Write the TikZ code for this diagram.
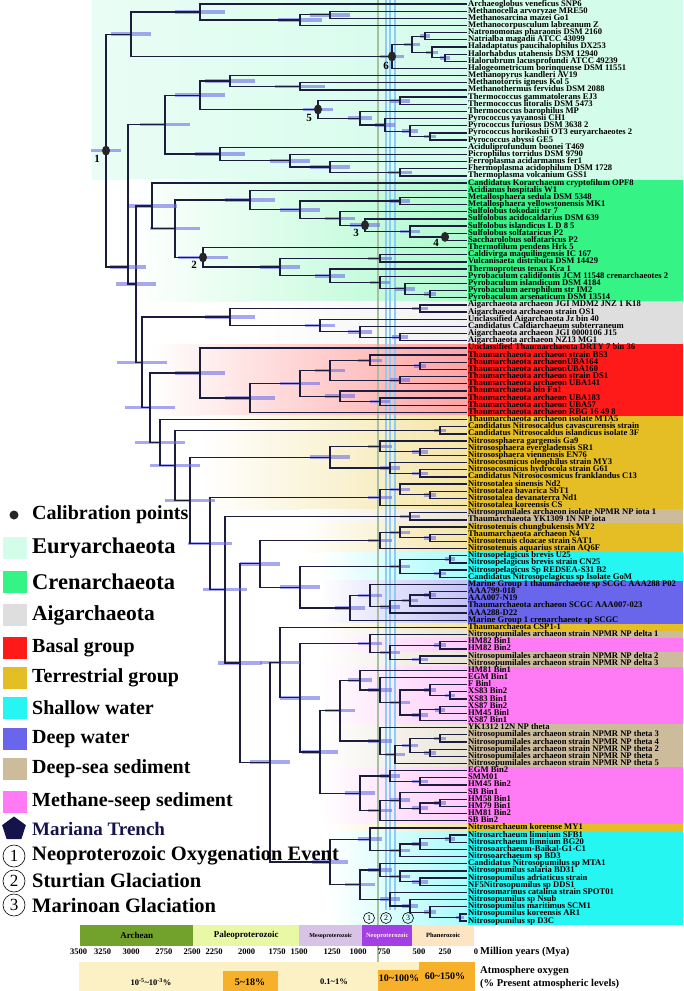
\documentclass[tikz,border=0pt]{standalone}
\usepackage{fontspec}
\setmainfont{Liberation Serif}
\usetikzlibrary{calc,shapes.geometric}

\definecolor{euryC}{HTML}{D4FCEB}
\definecolor{crenC}{HTML}{36F386}
\definecolor{aigC}{HTML}{DEDEDE}
\definecolor{basalC}{HTML}{FF1A1A}
\definecolor{terrC}{HTML}{E4BE24}
\definecolor{shallowC}{HTML}{26F6F2}
\definecolor{deepC}{HTML}{6A66EC}
\definecolor{sedC}{HTML}{CCBC9C}
\definecolor{seepC}{HTML}{FF7AF4}
\definecolor{treeC}{HTML}{1C1C3C}
\definecolor{hpdC}{HTML}{6E6EE6}
\definecolor{navyC}{HTML}{14144A}
\definecolor{oxyC}{HTML}{FBF1C4}
\definecolor{orangeC}{HTML}{F6B02A}
\definecolor{eventC}{HTML}{A9BFA2}
\definecolor{glacC}{HTML}{8ECBF5}
\definecolor{archC}{HTML}{72A22C}
\definecolor{paleoC}{HTML}{E8F8A4}
\definecolor{mesoC}{HTML}{D8C2E6}
\definecolor{neoC}{HTML}{A43FE6}
\definecolor{phanC}{HTML}{FDE5C4}

\tikzset{
  branch/.style={draw=treeC, line width=1.3pt},
  hpd/.style={fill=hpdC, fill opacity=.6},
  leaf/.style={anchor=west, inner xsep=1pt, inner ysep=0pt, font=\bfseries\fontsize{8.6}{8.6}\selectfont, text height=5.6pt, text depth=1.6pt},
  calib/.style={ellipse, fill=black!85, minimum width=8pt, minimum height=10pt, inner sep=0pt},
  calnum/.style={font=\bfseries\fontsize{11}{11}\selectfont},
  legtext/.style={anchor=west, inner sep=0pt, font=\bfseries\fontsize{20}{20}\selectfont},
  legbox/.style={minimum width=24pt, minimum height=22pt, inner sep=0pt},
  evnum/.style={circle, draw, line width=.6pt, inner sep=0pt, minimum size=#1},
  erabox/.style={minimum height=21pt, inner sep=0pt, anchor=north west},
  ticklab/.style={font=\bfseries\fontsize{8.5}{8.5}\selectfont},
  oxytext/.style={font=\bfseries\fontsize{10}{10}\selectfont}
}

% parent at x=#2, halfway between #3 and #4; #5 = half width of the HPD bar
\newcommand{\clade}[5]{%
  \path let \p1=($(#3)!.5!(#4)$) in coordinate (#1) at (#2pt,\y1);
  \fill[hpd] ([xshift=-#5pt,yshift=-1.8pt]#1) rectangle ([xshift=#5pt,yshift=1.8pt]#1);
  \draw[branch] (#3) -| (#1) |- (#4);
}
% same, parent put at (#2,#3)
\newcommand{\cladeat}[6]{%
  \coordinate (#1) at (#2,#3);
  \fill[hpd] ([xshift=-#6pt,yshift=-1.8pt]#1) rectangle ([xshift=#6pt,yshift=1.8pt]#1);
  \draw[branch] (#4) -| (#1) |- (#5);
}
% colour band over leaves #1..#2
\newcommand{\band}[4]{%
  \shade[left color=white, right color=#3!40] (#4,{4+(#1-1.5)*7.165}) rectangle (468,{4+(#2-.5)*7.165});
  \fill[#3] (468,{4+(#1-1.5)*7.165}) rectangle (683,{4+(#2-.5)*7.165});
}

\begin{document}
\begin{tikzpicture}[x=1pt,y=-1pt]
  \useasboundingbox (0,0) rectangle (683,991);

  % backgrounds
  \shade[left color=euryC!50, right color=euryC] (92,0) rectangle (468,179.6);
  \fill[euryC] (468,0) rectangle (683,179.6);
  \band{26}{42}{crenC}{130}
  \band{43}{48}{aigC}{250}
  \band{49}{58}{basalC}{150}
  \band{59}{71}{terrC}{200}
  \band{72}{73}{sedC}{300}
  \band{74}{77}{terrC}{300}
  \band{78}{81}{shallowC}{320}
  \band{82}{87}{deepC}{320}
  \band{88}{88}{terrC}{320}
  \band{89}{89}{sedC}{320}
  \band{90}{91}{seepC}{320}
  \band{92}{93}{sedC}{320}
  \band{94}{101}{seepC}{320}
  \band{102}{107}{sedC}{320}
  \band{108}{115}{seepC}{320}
  \band{116}{116}{terrC}{330}
  \band{117}{129}{shallowC}{330}

  % events
  \draw[eventC, line width=2.4pt] (378,0) -- (378,991);
  \draw[glacC, line width=1.6pt] (386,0) -- (386,910);
  \draw[glacC, line width=1.6pt] (390,0) -- (390,910);
  \draw[glacC, line width=1.6pt] (395,0) -- (395,910);

  % leaves
  \foreach \lab [count=\i] in {Archaeoglobus veneficus SNP6, Methanocella arvoryzae MRE50,
    Methanosarcina mazei Go1, Methanocorpusculum labreanum Z, Natronomonas pharaonis DSM 2160,
    Natrialba magadii ATCC 43099, Haladaptatus paucihalophilus DX253, Halorhabdus utahensis DSM 12940,
    Halorubrum lacusprofundi ATCC 49239, Halogeometricum borinquense DSM 11551,
    Methanopyrus kandleri AV19, Methanotorris igneus Kol 5, Methanothermus fervidus DSM 2088,
    Thermococcus gammatolerans EJ3, Thermococcus litoralis DSM 5473, Thermococcus barophilus MP,
    Pyrococcus yayanosii CH1, Pyrococcus furiosus DSM 3638 2, Pyrococcus horikoshii OT3 euryarchaeotes 2,
    Pyrococcus abyssi GE5, Aciduliprofundum boonei T469, Picrophilus torridus DSM 9790,
    Ferroplasma acidarmanus fer1, Fhermoplasma acidophilum DSM 1728, Thermoplasma volcanium GSS1,
    Candidatus Korarchaeum cryptofilum OPF8, Acidianus hospitalis W1, Metallosphaera sedula DSM 5348,
    Metallosphaera yellowstonensis MK1, Sulfolobus tokodaii str 7, Sulfolobus acidocaldarius DSM 639,
    Sulfolobus islandicus L D 8 5, Sulfolobus solfataricus P2, Saccharolobus solfataricus P2,
    Thermofilum pendens Hrk 5, Caldivirga maquilingensis IC 167, Vulcanisaeta distributa DSM 14429,
    Thermoproteus tenax Kra 1, Pyrobaculum calidifontis JCM 11548 crenarchaeotes 2,
    Pyrobaculum islandicum DSM 4184, Pyrobaculum aerophilum str IM2, Pyrobaculum arsenaticum DSM 13514,
    Aigarchaeota archaeon JGI MDM2 JNZ 1 K18, Aigarchaeota archaeon strain OS1,
    Unclassified Aigarchaeota Jz bin 40, Candidatus Caldiarchaeum subterraneum,
    Aigarchaeota archaeon JGI 0000106 J15, Aigarchaeota archaeon NZ13 MG1,
    Unclassified Thaumarchaeota DRTY 7 bin 36, Thaumarchaeota archaeon strain BS3,
    Thaumarchaeota archaeonUBA164, Thaumarchaeota archaeonUBA160, Thaumarchaeota archaeon strain DS1,
    Thaumarchaeota archaeon UBA141, Thaumarchaeota bin Fn1, Thaumarchaeota archaeon UBA183,
    Thaumarchaeota archaeon UBA57, Thaumarchaeota archaeon RBG 16 49 8,
    Thaumarchaeota archaeon isolate MTA5, Candidatus Nitrosocaldus cavascurensis strain,
    Candidatus Nitrosocaldus islandicus isolate 3F, Nitrososphaera gargensis Ga9,
    Nitrososphaera evergladensis SR1, Nitrososphaera viennensis EN76,
    Nitrosocosmicus oleophilus strain MY3, Nitrosocosmicus hydrocola strain G61,
    Candidatus Nitrosocosmicus franklandus C13, Nitrosotalea sinensis Nd2, Nitrosotalea bavarica SbT1,
    Nitrosotalea devanaterra Nd1, Nitrosotalea koreensis CS,
    Nitrosopumilales archaeon isolate NPMR NP iota 1, Thaumarchaeota YK1309 1N NP iota,
    Nitrosotenuis chungbukensis MY2, Thaumarchaeota archaeon N4, Nitrosotenuis cloacae strain SAT1,
    Nitrosotenuis aquarius strain AQ6F, Nitrosopelagicus brevis U25, Nitrosopelagicus brevis strain CN25,
    Nitrosopelagicus Sp REDSEA-S31 B2, Candidatus Nitrosopelagicus sp Isolate GoM,
    Marine Group 1 thaumarchaeote sp SCGC AAA288 P02, AAA799-018, AAA007-N19,
    Thaumarchaeota archaeon SCGC AAA007-023, AAA288-D22, Marine Group 1 crenarchaeote sp SCGC,
    Thaumarchaeota CSP1-1, Nitrosopumilales archaeon strain NPMR NP delta 1, HM82 Bin1, HM82 Bin2,
    Nitrosopumilales archaeon strain NPMR NP delta 2, Nitrosopumilales archaeon strain NPMR NP delta 3,
    HM81 Bin1, EGM Bin1, F Binl, XS83 Bin2, XS83 Bin1, XS87 Bin2, HM45 Binl, XS87 Bin1,
    YK1312 12N NP theta, Nitrosopumilales archaeon strain NPMR NP theta 3,
    Nitrosopumilales archaeon strain NPMR NP theta 4, Nitrosopumilales archaeon strain NPMR NP theta 2,
    Nitrosopumilales archaeon strain NPMR NP theta, Nitrosopumilales archaeon strain NPMR NP theta 5,
    EGM Bin2, SMM01, HM45 Bin2, SB Bin1, HM58 Bin1, HM79 Bin1, HM81 Bin2, SB Bin2,
    Nitrosarchaeum koreense MY1, Nitrosarchaeum limnium SFB1, Nitrosarchaeum limnium BG20,
    Nitrosoarchaeum-Baikal-G1-C1, Nitrosoarchaeum sp BD3, Candidatus Nitrosopumilus sp MTA1,
    Nitrosopumilus salaria BD31, Nitrosopumilus adriaticus strain, NF5Nitrosopumilus sp DDS1,
    Nitrosomarinus catalina strain SPOT01, Nitrosopumilus sp Nsub, Nitrosopumilus maritimus SCM1,
    Nitrosopumilus koreensis AR1, Nitrosopumilus sp D3C}
    \node[leaf] (l\i) at (467,{4+(\i-1)*7.165}) {\lab};

  % Euryarchaeota
  \clade{hbA}{425}{l5}{l6}{5}
  \clade{hbB}{445}{l8}{l9}{5}
  \clade{hbC}{432}{l7}{hbB}{6}
  \clade{hbE}{412}{hbA}{hbC}{8}
  \clade{halo}{392}{hbE}{l10}{12}
  \clade{msar}{330}{l2}{l3}{20}
  \clade{mmic}{300}{msar}{l4}{22}
  \clade{archg}{200}{l1}{mmic}{25}
  \clade{upE}{131}{archg}{halo}{20}
  \clade{mtor}{300}{l12}{l13}{25}
  \clade{mpyr}{230}{l11}{mtor}{25}
  \clade{tcA}{400}{l14}{l15}{10}
  \clade{pcA}{430}{l19}{l20}{6}
  \clade{pcB}{410}{l18}{pcA}{8}
  \clade{pyro}{385}{l17}{pcB}{10}
  \clade{pyrB}{360}{l16}{pyro}{12}
  \clade{tmcl}{318}{tcA}{pyrB}{15}
  \clade{clsI}{200}{mpyr}{tmcl}{25}
  \clade{tpA}{400}{l24}{l25}{12}
  \clade{tpB}{330}{l23}{tpA}{20}
  \clade{tpC}{290}{l22}{tpB}{20}
  \clade{tpla}{220}{l21}{tpC}{25}
  \clade{eurB}{165}{clsI}{tpla}{25}

  % Crenarchaeota and Korarchaeota
  \clade{sfA}{445}{l33}{l34}{4}
  \clade{sfB}{410}{l32}{sfA}{10}
  \clade{sfC}{365}{l31}{sfB}{15}
  \clade{sfD}{340}{l30}{sfC}{15}
  \clade{mts}{400}{l28}{l29}{10}
  \clade{sfE}{300}{mts}{sfD}{20}
  \clade{sulf}{250}{l27}{sfE}{25}
  \clade{tprA}{380}{l36}{l37}{12}
  \clade{pbA}{430}{l41}{l42}{6}
  \clade{pbB}{405}{l40}{pbA}{10}
  \clade{pbC}{380}{l39}{pbB}{10}
  \clade{tprB}{330}{l38}{pbC}{15}
  \clade{tprC}{280}{tprA}{tprB}{20}
  \clade{tprt}{203}{l35}{tprC}{25}
  \clade{cren}{175}{sulf}{tprt}{25}
  \clade{crk}{152}{l26}{cren}{25}

  % Aigarchaeota
  \clade{aiA}{420}{l43}{l44}{8}
  \clade{aiB}{400}{l47}{l48}{8}
  \clade{aiC}{360}{l46}{aiB}{12}
  \clade{aiD}{320}{l45}{aiC}{15}
  \clade{aig}{230}{aiA}{aiD}{25}

  % Thaumarchaeota, basal group
  \clade{bsA}{420}{l51}{l52}{6}
  \clade{bsB}{370}{l50}{bsA}{12}
  \clade{bsC}{400}{l53}{l54}{10}
  \clade{bsD}{330}{bsB}{bsC}{15}
  \clade{bsE}{380}{l56}{l57}{10}
  \clade{bsF}{340}{l55}{bsE}{15}
  \clade{bsG}{300}{bsD}{bsF}{20}
  \clade{bsH}{250}{bsG}{l58}{25}
  \clade{bas}{200}{l49}{bsH}{25}

  % terrestrial and marine groups
  \clade{ncal}{440}{l60}{l61}{6}
  \clade{nssA}{420}{l63}{l64}{8}
  \clade{nss}{380}{l62}{nssA}{12}
  \clade{ncmA}{420}{l66}{l67}{8}
  \clade{ncm}{390}{l65}{ncmA}{10}
  \clade{ionb}{330}{nss}{ncm}{20}
  \clade{ntlA}{430}{l69}{l70}{6}
  \clade{ntlB}{400}{l68}{ntlA}{10}
  \clade{ntl}{380}{ntlB}{l71}{12}
  \clade{iota}{410}{l72}{l73}{10}
  \clade{ntnA}{430}{l75}{l76}{6}
  \clade{ntnB}{400}{l74}{ntnA}{10}
  \clade{ntn}{380}{ntnB}{l77}{12}
  \clade{nplA}{450}{l78}{l79}{5}
  \clade{nplB}{440}{l80}{l81}{6}
  \clade{npl}{400}{nplA}{nplB}{10}
  \clade{mgA}{430}{l83}{l84}{6}
  \clade{mgB}{410}{mgA}{l85}{8}
  \clade{mgC}{390}{mgB}{l86}{10}
  \clade{mgD}{370}{l82}{mgC}{12}
  \clade{mg}{350}{mgD}{l87}{15}

  % sediment and methane seep groups
  \clade{msA}{440}{l90}{l91}{6}
  \clade{msB}{420}{l92}{l93}{8}
  \clade{msC}{390}{msA}{msB}{10}
  \clade{msD}{370}{l89}{msC}{12}
  \clade{msE}{450}{l97}{l98}{5}
  \clade{msF}{430}{l96}{msE}{6}
  \clade{msG}{440}{l99}{l100}{5}
  \clade{msH}{420}{msG}{l101}{8}
  \clade{msI}{400}{msF}{msH}{10}
  \clade{msJ}{380}{l95}{msI}{12}
  \clade{msK}{360}{l94}{msJ}{12}
  \clade{thA}{440}{l103}{l104}{6}
  \clade{thB}{430}{l105}{l106}{6}
  \clade{thC}{410}{thA}{thB}{8}
  \clade{thD}{395}{thC}{l107}{10}
  \clade{theta}{380}{l102}{thD}{12}
  \clade{msL}{340}{msK}{theta}{15}
  \clade{sbA}{440}{l112}{l113}{6}
  \clade{sbB}{420}{sbA}{l114}{8}
  \clade{sbC}{400}{l111}{sbB}{10}
  \clade{sbD}{380}{sbC}{l115}{12}
  \clade{sbE}{420}{l109}{l110}{8}
  \clade{sbF}{390}{l108}{sbE}{10}
  \clade{sb}{360}{sbF}{sbD}{15}
  \clade{msM}{320}{msL}{sb}{18}
  \clade{msN}{300}{msD}{msM}{20}
  \clade{seep}{280}{l88}{msN}{20}

  % Nitrosarchaeum and Nitrosopumilus
  \clade{narA}{450}{l117}{l118}{5}
  \clade{narB}{420}{narA}{l119}{8}
  \clade{narC}{400}{narB}{l120}{10}
  \clade{nar}{370}{l116}{narC}{12}
  \clade{npuA}{460}{l128}{l129}{4}
  \clade{npuB}{430}{l127}{npuA}{6}
  \clade{npuC}{410}{l126}{npuB}{8}
  \clade{npuD}{390}{l125}{npuC}{10}
  \clade{npuE}{420}{l123}{l124}{8}
  \clade{npuF}{400}{l122}{npuE}{10}
  \clade{npuG}{380}{l121}{npuF}{12}
  \clade{npu}{360}{npuG}{npuD}{15}
  \clade{npm}{330}{nar}{npu}{18}

  % backbone
  \clade{lowr}{270}{seep}{npm}{20}
  \clade{pel}{300}{npl}{mg}{20}
  \clade{bkA}{260}{ntn}{pel}{20}
  \clade{bkB}{240}{bkA}{lowr}{22}
  \clade{bkC}{225}{iota}{bkB}{22}
  \clade{bkD}{210}{ntl}{bkC}{22}
  \clade{bkE}{190}{ionb}{bkD}{25}
  \clade{bkF}{175}{ncal}{bkE}{25}
  \clade{bkG}{160}{l59}{bkF}{25}
  \clade{thaum}{150}{bas}{bkG}{25}
  \clade{aith}{142}{aig}{thaum}{25}
  \clade{tack}{136}{crk}{aith}{20}
  \cladeat{lowX}{128}{267}{eurB}{tack}{18}
  \clade{root}{106}{upE}{lowX}{15}

  % calibration points
  \node[calib] (c1) at (root) {};
  \node[calnum] at ([xshift=-9pt,yshift=-8pt]c1) {1};
  \node[calib] (c2) at (tprt) {};
  \node[calnum] at ([xshift=-9pt,yshift=-8pt]c2) {2};
  \node[calib] (c3) at (sfC) {};
  \node[calnum] at ([xshift=-9pt,yshift=-8pt]c3) {3};
  \node[calib] (c4) at (sfA) {};
  \node[calnum] at ([xshift=-9pt,yshift=-6pt]c4) {4};
  \node[calib] (c5) at (tmcl) {};
  \node[calnum] at ([xshift=-9pt,yshift=-8pt]c5) {5};
  \node[calib] (c6) at (halo) {};
  \node[calnum] at ([xshift=-6pt,yshift=-10pt]c6) {6};

  % legend
  \node[calib, minimum width=9pt, minimum height=9pt] (kcal) at (14,515) {};
  \node[legtext] (tcal) at (32,515) {Calibration points};
  \foreach \yy/\col/\txt/\fs [count=\k] in {548/euryC/Euryarchaeota/22.5, 582/crenC/Crenarchaeota/22.5,
      615/aigC/Aigarchaeota/21.5, 648/basalC/Basal group/20, 678/terrC/Terrestrial group/20,
      708/shallowC/Shallow water/20, 739/deepC/Deep water/20, 769/sedC/Deep-sea sediment/20,
      802/seepC/Methane-seep sediment/20} {
    \node[legbox, fill=\col] (kb\k) at (15,\yy) {};
    \node[legtext, font=\bfseries\fontsize{\fs}{\fs}\selectfont] (kt\k) at (32,\yy) {\txt};
  }
  \node[regular polygon, regular polygon sides=5, fill=navyC, minimum size=25pt, inner sep=0pt] (kmt) at (14,829) {};
  \node[legtext, text=navyC, font=\bfseries\fontsize{19}{19}\selectfont] (tmt) at (32,829) {Mariana Trench};
  \foreach \yy/\n/\txt in {856/1/Neoproterozoic Oxygenation Event, 881/2/Sturtian Glaciation, 905/3/Marinoan Glaciation} {
    \node[evnum=22pt, font=\fontsize{17}{17}\selectfont] (ke\n) at (14,\yy) {\n};
    \node[legtext, font=\bfseries\fontsize{20.5}{20.5}\selectfont] (te\n) at (32,\yy) {\txt};
  }

  % event marks
  \node[evnum=11pt, font=\fontsize{8}{8}\selectfont] (m1) at (369,918) {1};
  \node[evnum=11pt, font=\fontsize{8}{8}\selectfont] (m2) at (386,918) {2};
  \node[evnum=11pt, font=\fontsize{8}{8}\selectfont] (m3) at (408,918) {3};

  % geological time
  \node[erabox, fill=archC, minimum width=113pt, font=\bfseries\fontsize{9}{9}\selectfont] (archean) at (80,925) {Archean};
  \node[erabox, fill=paleoC, minimum width=106pt, font=\bfseries\fontsize{9}{9}\selectfont] (paleo) at (193,925) {Paleoproterozoic};
  \node[erabox, fill=mesoC, minimum width=63pt, font=\bfseries\fontsize{6}{6}\selectfont] (meso) at (299,925) {Mesoproterozoic};
  \node[erabox, fill=neoC, text=pink!40, minimum width=50pt, font=\bfseries\fontsize{6.5}{6.5}\selectfont] (neo) at (362,925) {Neoproterozoic};
  \node[erabox, fill=phanC, minimum width=62pt, font=\bfseries\fontsize{6.5}{6.5}\selectfont] (phan) at (412,925) {Phanerozoic};
  \foreach \t/\xx in {3500/78.6, 3250/102.6, 3000/131, 2750/163.8, 2500/192, 2250/214, 2000/246.7,
      1750/277, 1500/299, 1250/332, 1000/358, 750/384, 500/419, 250/445, 0/476}
    \node[ticklab] at (\xx,952) {\t};
  \node[anchor=west, inner sep=0pt, font=\bfseries\fontsize{10.5}{10.5}\selectfont] (mya) at (480,952) {Million years (Mya)};

  % atmosphere oxygen
  \fill[oxyC] (79,962) rectangle (475,991);
  \fill[orangeC] (223,971) rectangle (278,991);
  \fill[orangeC] (378,970) rectangle (419,991);
  \fill[orangeC] (419,962) rectangle (475,991);
  \node[oxytext, font=\bfseries\fontsize{8.5}{8.5}\selectfont] (ox1) at (151,982) {10\textsuperscript{-5}\textasciitilde 10\textsuperscript{-3}\%};
  \node[oxytext] (ox2) at (250,982) {5\textasciitilde 18\%};
  \node[oxytext, font=\bfseries\fontsize{8.5}{8.5}\selectfont] (ox3) at (334,982) {0.1\textasciitilde 1\%};
  \node[oxytext] (ox4) at (399,978) {10\textasciitilde 100\%};
  \node[oxytext] (ox5) at (445,976) {60\textasciitilde 150\%};
  \node[anchor=west, inner sep=0pt, font=\bfseries\fontsize{10.5}{10.5}\selectfont] (atm) at (480,971) {Atmosphere oxygen};
  \node[anchor=west, inner sep=0pt, font=\bfseries\fontsize{10.5}{10.5}\selectfont] (pal) at (480,984) {(\% Present atmospheric levels)};
\end{tikzpicture}
\end{document}
